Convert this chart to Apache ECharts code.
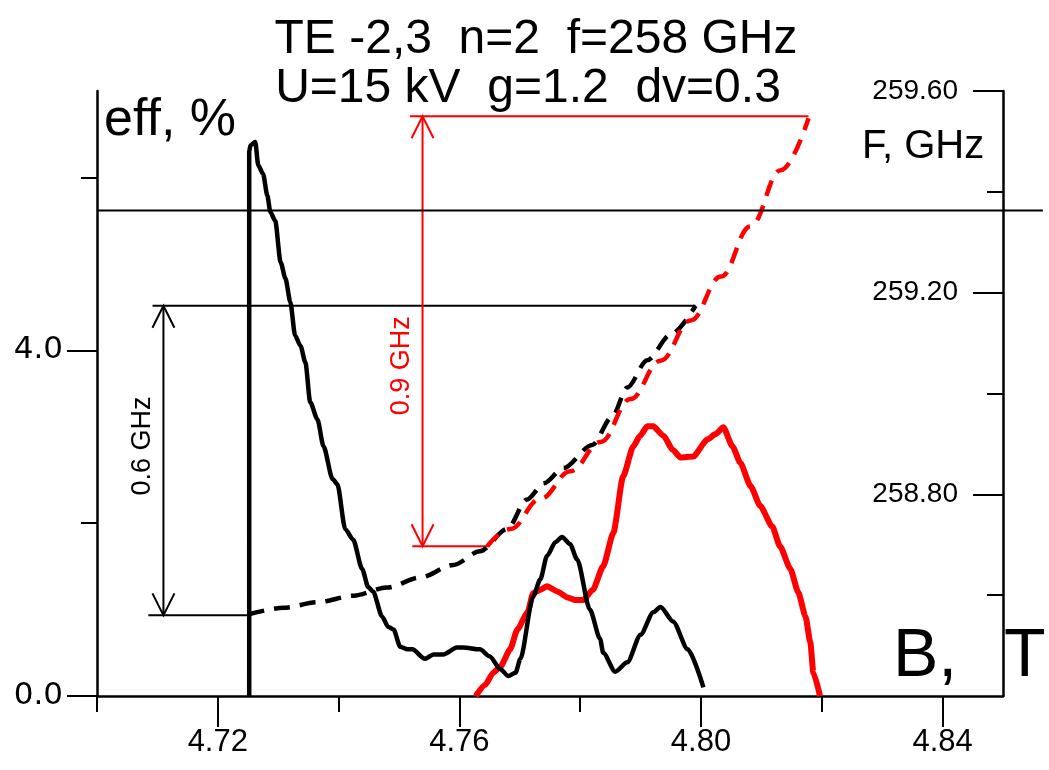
<!DOCTYPE html>
<html><head><meta charset="utf-8">
<script src="https://cdn.jsdelivr.net/npm/echarts@6/dist/echarts.min.js"></script>
<style>html,body{margin:0;padding:0;background:#fff}#c{width:1049px;height:770px}</style>
</head><body><div id="c"></div>
<script>
// ---- text ----
const titleLine1 = 'TE -2,3  n=2  f=258 GHz';
const titleLine2 = 'U=15 kV  g=1.2  dv=0.3';
const leftAxisName = 'eff, %';
const rightAxisName = 'F, GHz';
const xAxisNameA = 'B,';
const xAxisNameB = 'T';
const blackSpanLabel = '0.6 GHz';
const redSpanLabel = '0.9 GHz';

// ---- ticks ----
const xMajorTicks = [4.72, 4.76, 4.80, 4.84];
const xMinorTicks = [4.70, 4.74, 4.78, 4.82];
const effMajorTicks = [0, 4];
const effMinorTicks = [2, 6];
const freqMajorTicks = [258.8, 259.2, 259.6];
const freqMinorTicks = [258.6, 259.0, 259.4];

// ---- efficiency (left axis) [B, eff %] ----
const effBlack = [[4.7252,0],[4.7252,6.30],[4.7254,6.37],[4.7262,6.41],[4.7267,6.14],[4.7275,6.04],[4.7282,5.79],[4.7287,5.60],[4.7295,5.50],[4.7304,5.02],[4.7312,4.83],[4.7320,4.56],[4.7328,4.17],[4.7337,4.05],[4.7345,3.86],[4.7353,3.40],[4.7365,3.20],[4.7375,2.89],[4.7390,2.51],[4.7398,2.45],[4.7411,1.93],[4.7424,1.81],[4.7439,1.47],[4.7449,1.26],[4.7457,1.21],[4.7472,0.92],[4.7482,0.80],[4.7491,0.77],[4.7502,0.57],[4.7514,0.54],[4.7522,0.54],[4.7543,0.43],[4.7557,0.48],[4.7573,0.48],[4.7596,0.56],[4.7606,0.56],[4.7634,0.54],[4.7650,0.46],[4.7668,0.31],[4.7681,0.23],[4.7693,0.27],[4.7701,0.43],[4.7722,1.15],[4.7734,1.35],[4.7745,1.62],[4.7759,1.78],[4.7770,1.84],[4.7783,1.76],[4.7795,1.58],[4.7816,1.00],[4.7833,0.66],[4.7838,0.50],[4.7858,0.28],[4.7878,0.39],[4.7900,0.71],[4.7921,0.97],[4.7933,1.03],[4.7954,0.86],[4.7978,0.54],[4.8004,0.10]];
const effRed = [[4.7627,0.0],[4.7643,0.13],[4.7656,0.27],[4.7668,0.34],[4.7684,0.54],[4.7696,0.77],[4.7713,0.97],[4.7722,1.19],[4.7734,1.23],[4.7745,1.27],[4.7762,1.21],[4.7779,1.14],[4.7792,1.11],[4.7805,1.11],[4.7821,1.23],[4.7838,1.50],[4.7855,1.89],[4.7871,2.54],[4.7888,2.89],[4.7899,3.01],[4.7911,3.12],[4.7921,3.12],[4.7938,3.01],[4.7953,2.85],[4.7966,2.76],[4.7987,2.77],[4.8011,2.97],[4.8024,3.03],[4.8037,3.11],[4.8052,2.89],[4.8065,2.70],[4.8082,2.43],[4.8098,2.20],[4.8118,1.96],[4.8131,1.73],[4.8148,1.47],[4.8161,1.20],[4.8173,0.92],[4.8181,0.62],[4.8186,0.27],[4.8197,0.0]];

// ---- frequency (right axis) [B, F GHz] ----
const freqBlack = [[4.7251,258.562],[4.7309,258.575],[4.7365,258.586],[4.7425,258.599],[4.7480,258.615],[4.7535,258.635],[4.7590,258.660],[4.7634,258.687],[4.7679,258.731],[4.7712,258.790],[4.7740,258.822],[4.7772,258.852],[4.7820,258.898],[4.7853,258.954],[4.7878,259.012],[4.7911,259.066],[4.7950,259.117],[4.7991,259.174]];
const freqRed = [[4.7646,258.697],[4.7684,258.731],[4.7734,258.791],[4.7784,258.846],[4.7834,258.904],[4.7883,258.989],[4.7933,259.065],[4.7983,259.145],[4.8033,259.232],[4.8082,259.332],[4.8132,259.443],[4.8178,259.546]];

// ---- annotation geometry in data units (right axis) ----
const refLine = [[4.70, 259.363], [4.8566, 259.363]];
const blackTop = [[4.7092, 259.174], [4.7991, 259.174]];
const blackBottom = [[4.7085, 258.56], [4.7251, 258.56]];
const blackArrow = [[4.7110, 258.56], [4.7110, 259.174]];
const blackLabelAt = [4.7075, 258.896];
const redTop = [[4.7518, 259.55], [4.8178, 259.55]];
const redBottom = [[4.7522, 258.697], [4.7647, 258.697]];
const redArrow = [[4.7539, 258.697], [4.7539, 259.55]];
const redLabelAt = [4.7504, 259.055];

const RED = '#ff0000', BLACK = '#000000';
const FONT = '"Liberation Sans", Arial, sans-serif';

const chart = echarts.init(document.getElementById('c'), null, {renderer: 'canvas'});

function ln(name, data, yIdx, color, width, dash, extra) {
  return Object.assign({
    name, type: 'line', data, xAxisIndex: 0, yAxisIndex: yIdx,
    showSymbol: false, symbol: 'none', animation: false, silent: true,
    lineStyle: {color, width, type: dash || 'solid', cap: 'butt', join: 'round'}
  }, extra || {});
}

const baseX = {type: 'value', min: 4.70, max: 4.85, position: 'bottom', splitLine: {show: false}};
const baseEff = {type: 'value', min: 0, max: 7, position: 'left', splitLine: {show: false}};
const baseFreq = {type: 'value', min: 258.4, max: 259.6, position: 'right', splitLine: {show: false}};

chart.setOption({
  animation: false,
  backgroundColor: '#fff',
  grid: {left: 97, right: 46, top: 91, bottom: 74, containLabel: false},
  xAxis: [
    Object.assign({}, baseX, {
      axisLine: {show: true, lineStyle: {color: BLACK, width: 2.5}},
      axisTick: {show: true, customValues: xMajorTicks, length: 31, lineStyle: {color: BLACK, width: 2}},
      axisLabel: {show: true, customValues: xMajorTicks, margin: 31, color: BLACK,
        fontFamily: '"Liberation Sans Narrow", "Liberation Sans", Arial', fontSize: 31,
        formatter: v => v.toFixed(2)}
    }),
    Object.assign({}, baseX, {
      axisLine: {show: false},
      axisTick: {show: true, customValues: xMinorTicks, length: 16, lineStyle: {color: BLACK, width: 2}},
      axisLabel: {show: false}
    })
  ],
  yAxis: [
    Object.assign({}, baseEff, {
      axisLine: {show: true, lineStyle: {color: BLACK, width: 2.5}},
      axisTick: {show: true, customValues: effMajorTicks, length: 30, lineStyle: {color: BLACK, width: 2}},
      axisLabel: {show: true, customValues: effMajorTicks, margin: 34, color: BLACK,
        fontFamily: '"DejaVu Sans", Verdana, sans-serif', fontSize: 31, formatter: v => v.toFixed(1)}
    }),
    Object.assign({}, baseEff, {
      axisLine: {show: false},
      axisTick: {show: true, customValues: effMinorTicks, length: 16, lineStyle: {color: BLACK, width: 2}},
      axisLabel: {show: false}
    }),
    Object.assign({}, baseFreq, {
      axisLine: {show: true, lineStyle: {color: BLACK, width: 2.5}},
      axisTick: {show: true, inside: true, customValues: freqMajorTicks, length: 30, lineStyle: {color: BLACK, width: 2}},
      axisLabel: {show: true, inside: true, customValues: freqMajorTicks, margin: 45, color: BLACK,
        fontFamily: FONT, fontSize: 28, formatter: v => v.toFixed(2)}
    }),
    Object.assign({}, baseFreq, {
      axisLine: {show: false},
      axisTick: {show: true, inside: true, customValues: freqMinorTicks, length: 16, lineStyle: {color: BLACK, width: 2}},
      axisLabel: {show: false}
    })
  ],
  series: [
    ln('blackTop', blackTop, 2, BLACK, 2),
    ln('blackBottom', blackBottom, 2, BLACK, 2),
    ln('blackArrow', blackArrow, 2, BLACK, 2),
    ln('redTop', redTop, 2, RED, 2),
    ln('redBottom', redBottom, 2, RED, 2),
    ln('redArrow', redArrow, 2, RED, 2),
    ln('freqBlack', freqBlack, 2, BLACK, 4.5, [16, 10], {smooth: 0.3, smoothMonotone: 'x'}),
    ln('freqRed', freqRed, 2, RED, 4.5, [16, 10], {smooth: 0.4, smoothMonotone: 'x'}),
    ln('effRed', effRed, 0, RED, 6, 'solid', {smooth: 0.2, smoothMonotone: 'x'}),
    ln('effBlack', effBlack, 0, BLACK, 4.5, 'solid', {smooth: 0.25, smoothMonotone: 'x'})
  ]
});

function px(pt) { return chart.convertToPixel({xAxisIndex: 0, yAxisIndex: 2}, pt); }
function chevron(pt, up, color) {
  const p = px(pt); const d = up ? 22 : -22;
  return {type: 'polyline', silent: true, z: 100,
    shape: {points: [[p[0] - 11, p[1] + d], [p[0], p[1]], [p[0] + 11, p[1] + d]]},
    style: {stroke: color, lineWidth: 2, fill: null}};
}
function vtext(pt, text, color) {
  const p = px(pt);
  return {type: 'text', x: p[0], y: p[1], rotation: Math.PI / 2, silent: true, z: 100,
    style: {text, fill: color, font: '27px ' + FONT, align: 'center', verticalAlign: 'middle'}};
}
function htext(x, y, text, size, align) {
  return {type: 'text', x, y, silent: true, z: 100,
    style: {text, fill: BLACK, font: size + 'px ' + FONT, align: align || 'left', verticalAlign: 'middle'}};
}
const r0 = px(refLine[0]), r1 = px(refLine[1]);

chart.setOption({
  graphic: [
    {type: 'line', silent: true, z: 50, shape: {x1: r0[0], y1: r0[1], x2: r1[0], y2: r1[1]},
      style: {stroke: BLACK, lineWidth: 2}},
    chevron(blackArrow[1], true, BLACK), chevron(blackArrow[0], false, BLACK),
    chevron(redArrow[1], true, RED), chevron(redArrow[0], false, RED),
    vtext(blackLabelAt, blackSpanLabel, BLACK),
    vtext(redLabelAt, redSpanLabel, RED),
    htext(536, 40, titleLine1, 48, 'center'),
    htext(528, 89, titleLine2, 48, 'center'),
    htext(104, 121, leftAxisName, 52),
    htext(862, 147, rightAxisName, 40),
    htext(893, 657, xAxisNameA, 68),
    htext(1004, 657, xAxisNameB, 68)
  ]
});
</script></body></html>
